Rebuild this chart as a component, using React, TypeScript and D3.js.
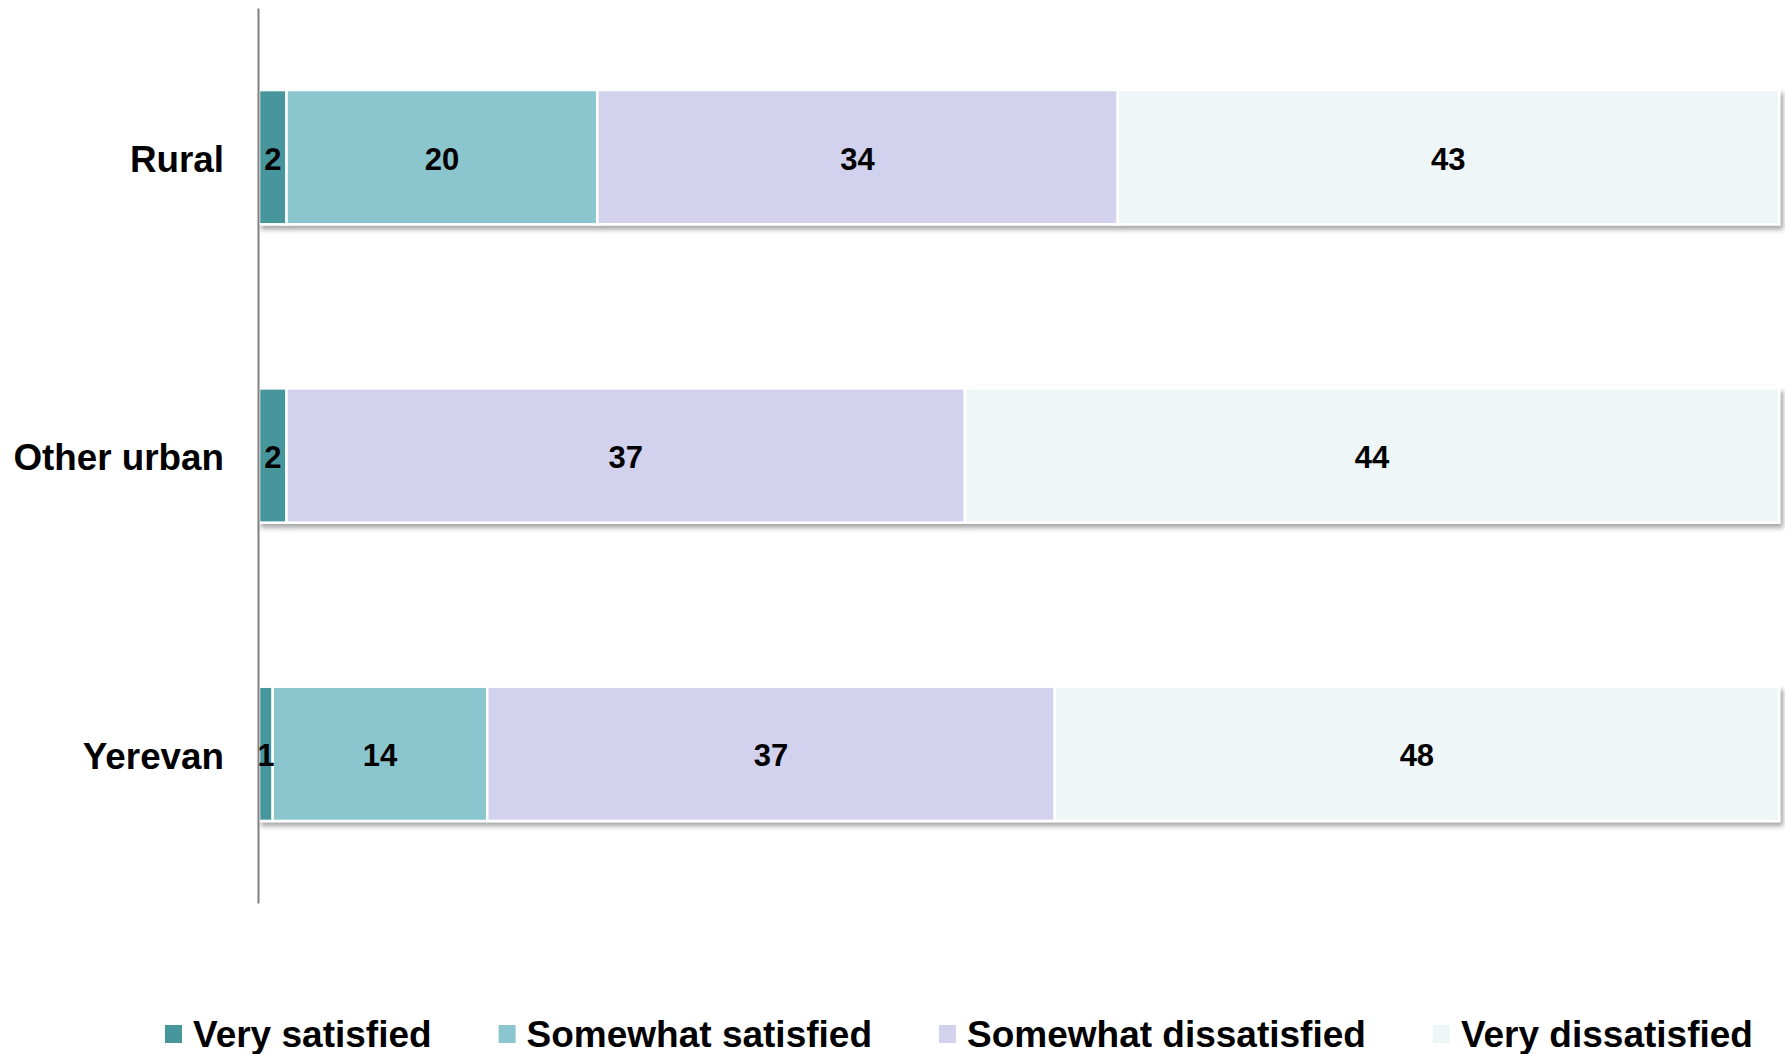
import React, { useEffect, useRef } from "react";
import * as d3 from "d3";

const categories = ["Rural", "Other urban", "Yerevan"];
const seriesNames = ["Very satisfied", "Somewhat satisfied", "Somewhat dissatisfied", "Very dissatisfied"];
const verySatisfied = [1.8, 1.5, 0.9];
const somewhatSatisfied = [20.3, 0, 14.1];
const somewhatDissatisfied = [34.0, 37.0, 37.3];
const veryDissatisfied = [43.2, 44.4, 47.6];
const colors = ["#46969C", "#8BC6CE", "#D2D2EE", "#EFF6F8"];

const W = 1785;
const H = 1054;
const FONT = "'Liberation Sans', Arial, Helvetica, sans-serif";

function measure(text: string, size: number): number {
  const c = document.createElement("canvas").getContext("2d");
  if (!c) return text.length * size * 0.55;
  c.font = `bold ${size}px ${FONT}`;
  return c.measureText(text).width;
}

export default function App() {
  const axisRef = useRef<SVGGElement>(null);

  const rows = categories.map((c, i) => ({
    category: c,
    [seriesNames[0]]: verySatisfied[i],
    [seriesNames[1]]: somewhatSatisfied[i],
    [seriesNames[2]]: somewhatDissatisfied[i],
    [seriesNames[3]]: veryDissatisfied[i],
  }));

  const stack = d3
    .stack<any>()
    .keys(seriesNames)
    .offset(d3.stackOffsetExpand);
  const stacked = stack(rows);

  const x = d3.scaleLinear().domain([0, 1]).range([259, 1779]);
  const y = d3
    .scaleBand<string>()
    .domain(categories)
    .range([8, 903])
    .paddingInner(0.55)
    .paddingOuter(0.275);

  useEffect(() => {
    if (!axisRef.current) return;
    const g = d3.select(axisRef.current);
    g.call(d3.axisLeft(y).tickSize(0).tickPadding(34) as any);
    g.select(".domain").attr("stroke", "#808080").attr("stroke-width", 2);
    g.selectAll("text")
      .attr("fill", "#000")
      .attr("dy", "0.4em")
      .style("font-family", FONT)
      .style("font-size", "36.8px")
      .style("font-weight", "bold");
  }, []);

  // legend layout
  const legendSize = 37;
  let lx = 165;
  const legendItems = seriesNames.map((name, i) => {
    const item = { name, color: colors[i], x: lx };
    lx += 17 + 11 + measure(name, legendSize) + 67;
    return item;
  });

  return (
    <svg
      width={W}
      height={H}
      style={{ position: "absolute", left: 0, top: 0, background: "#fff" }}
    >
      <defs>
        <filter id="shadow" x="-5%" y="-20%" width="110%" height="150%">
          <feDropShadow dx="3" dy="4" stdDeviation="2.5" floodColor="#000" floodOpacity="0.35" />
        </filter>
      </defs>
      <rect x={0} y={0} width={W} height={H} fill="#fff" />
      {categories.map((cat, ci) => (
        <g key={cat} filter="url(#shadow)">
          {stacked.map((s, si) => {
            const d = s[ci];
            if (d[1] - d[0] <= 0) return null;
            return (
              <rect
                key={si}
                x={x(d[0])}
                y={y(cat)!}
                width={x(d[1]) - x(d[0])}
                height={y.bandwidth()}
                fill={colors[si]}
                stroke="#fff"
                strokeWidth={2.5}
              />
            );
          })}
        </g>
      ))}
      {categories.map((cat, ci) =>
        stacked.map((s, si) => {
          const d = s[ci];
          const v = (rows[ci] as any)[seriesNames[si]];
          if (!v) return null;
          return (
            <text
              key={`${cat}-${si}`}
              x={(x(d[0]) + x(d[1])) / 2}
              y={y(cat)! + y.bandwidth() / 2}
              dy="0.4em"
              textAnchor="middle"
              fontFamily={FONT}
              fontWeight="bold"
              fontSize={31}
              fill="#000"
            >
              {Math.round(v)}
            </text>
          );
        })
      )}
      <g ref={axisRef} transform="translate(258,0)" />
      {legendItems.map((it) => (
        <g key={it.name}>
          <rect x={it.x} y={1025} width={17} height={18} fill={it.color} />
          <text
            x={it.x + 17 + 11}
            y={1047}
            fontFamily={FONT}
            fontWeight="bold"
            fontSize={legendSize}
            fill="#000"
          >
            {it.name}
          </text>
        </g>
      ))}
    </svg>
  );
}
